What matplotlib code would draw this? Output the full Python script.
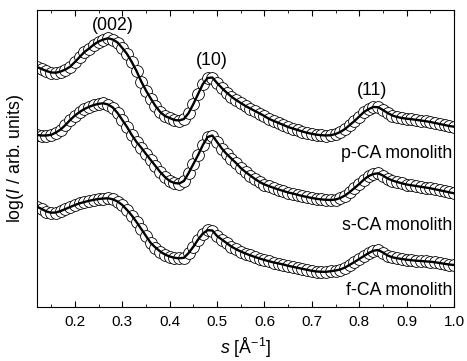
import numpy as np
import matplotlib
matplotlib.use('Agg')
import matplotlib.pyplot as plt
from matplotlib.ticker import MultipleLocator

plt.rcParams['font.family'] = ['Liberation Sans', 'DejaVu Sans']
plt.rcParams['mathtext.fontset'] = 'custom'
plt.rcParams['mathtext.rm'] = 'Liberation Sans'
plt.rcParams['mathtext.it'] = 'Liberation Sans:italic'

# scattering vector s grid (A^-1)
s = np.round(np.arange(0.12, 1.0001, 0.01), 2)

p_ca = [67, 69, 71, 72.5, 72.7, 71.5, 69.5, 66.7, 62, 57,
        52, 48.5, 44.5, 41.5, 39.5, 38.3, 39.5, 42.5, 48, 54,
        62, 71, 81.5, 90.5, 98.5, 106, 112, 116, 118, 120,
        120.5, 119, 113, 104, 94, 84, 78, 77.5, 83, 88,
        92.5, 96.5, 100, 103, 106, 108.5, 111, 113.5, 116, 119,
        121, 123, 125, 127, 128.5, 130, 131.5, 132.8, 133.8, 134.7,
        135.2, 135.5, 135.2, 134, 132, 129, 125, 121, 116.5, 112,
        109, 107, 107.2, 110, 113, 115.5, 117, 118, 118.7, 119.2,
        119.8, 120.5, 121.2, 122, 123, 124, 125, 126, 126.7]
s_ca = [135, 135.5, 135.5, 134.8, 132.5, 129.5, 125, 120, 115.5, 112,
        109, 106.8, 105, 103.8, 103.3, 104.5, 107.5, 113, 120, 127,
        135, 142, 147.7, 154, 160, 166, 172, 177, 181, 183,
        183.5, 181, 173, 164, 155, 145, 137, 135.5, 142, 148.5,
        154, 158.5, 163, 168, 172, 175.5, 179, 182, 184.5, 186.2,
        188, 189.5, 191, 192.5, 193.5, 194.8, 196, 197, 198, 198.8,
        199.4, 199.8, 200, 199.5, 198, 195.5, 192, 188, 184, 179.5,
        176, 174, 173.3, 175.5, 178.5, 180.5, 182, 183.3, 184.5, 185.3,
        186, 186.8, 187.5, 188.3, 189.3, 190.3, 191.3, 192.3, 193.3]
f_ca = [206.7, 209, 211.5, 212.7, 212.5, 211, 209, 207, 205, 203.3,
        202, 200.8, 199.8, 199, 198.5, 198.3, 199.3, 201.5, 205, 210,
        215.5, 222, 229, 236, 243, 247.5, 251.5, 254.5, 256.5, 257.8,
        258.3, 257.8, 253, 246.7, 239.5, 233.5, 230.2, 230.5, 236, 239.5,
        243, 246.5, 249.2, 251.5, 253.5, 255.3, 257, 258.5, 260, 261.3,
        262.5, 263.5, 264.5, 265.8, 266.8, 267.8, 268.8, 269.8, 270.8, 271.5,
        271.8, 271.8, 271.2, 270.5, 269.5, 267.5, 264.8, 262, 259, 256,
        253, 250.7, 250, 252.5, 255.5, 257.3, 258.3, 259, 259.7, 260.2,
        260.7, 261, 261.4, 261.7, 262.3, 263, 263.8, 264.5, 265]

series = [p_ca, s_ca, f_ca]
names = ['p-CA monolith', 's-CA monolith', 'f-CA monolith']
name_pos = [158, 230, 295]
peaks = ['(002)', '(10)', '(11)']
peak_pos = [(0.28, 25), (0.488, 60), (0.828, 90)]

fig = plt.figure(figsize=(4.67, 3.61), dpi=100)
ax = fig.add_axes([37/467, 54/361, 417/467, 297/361])

for y in series:
    ax.plot(s, y, 'o', ms=8.5, mfc='white', mec='black', mew=0.6)
    ax.plot(s, y, 'k-', lw=1.7)

for name, yy in zip(names, name_pos):
    ax.text(0.997, yy, name, ha='right', va='baseline', fontsize=12.8)
for lab, (xx, yy) in zip(peaks, peak_pos):
    ax.text(xx, yy, lab, ha='center', va='center', fontsize=12.8)

ax.set_xlim(0.12, 1.0)
ax.set_ylim(307, 10)
ax.xaxis.set_major_locator(MultipleLocator(0.1))
ax.xaxis.set_minor_locator(MultipleLocator(0.05))
ax.tick_params(axis='x', which='both', direction='in', top=True, labelsize=11, pad=6)
ax.tick_params(axis='x', which='major', length=4)
ax.tick_params(axis='x', which='minor', length=2.5)
ax.set_yticks([])
ax.set_xlabel(r'$s$ [Å$^{-1}$]', fontsize=12.8, labelpad=5)
ax.set_ylabel(r'log($I$ / arb. units)', fontsize=12.8, labelpad=8)

fig.savefig('out.png', dpi=100)
